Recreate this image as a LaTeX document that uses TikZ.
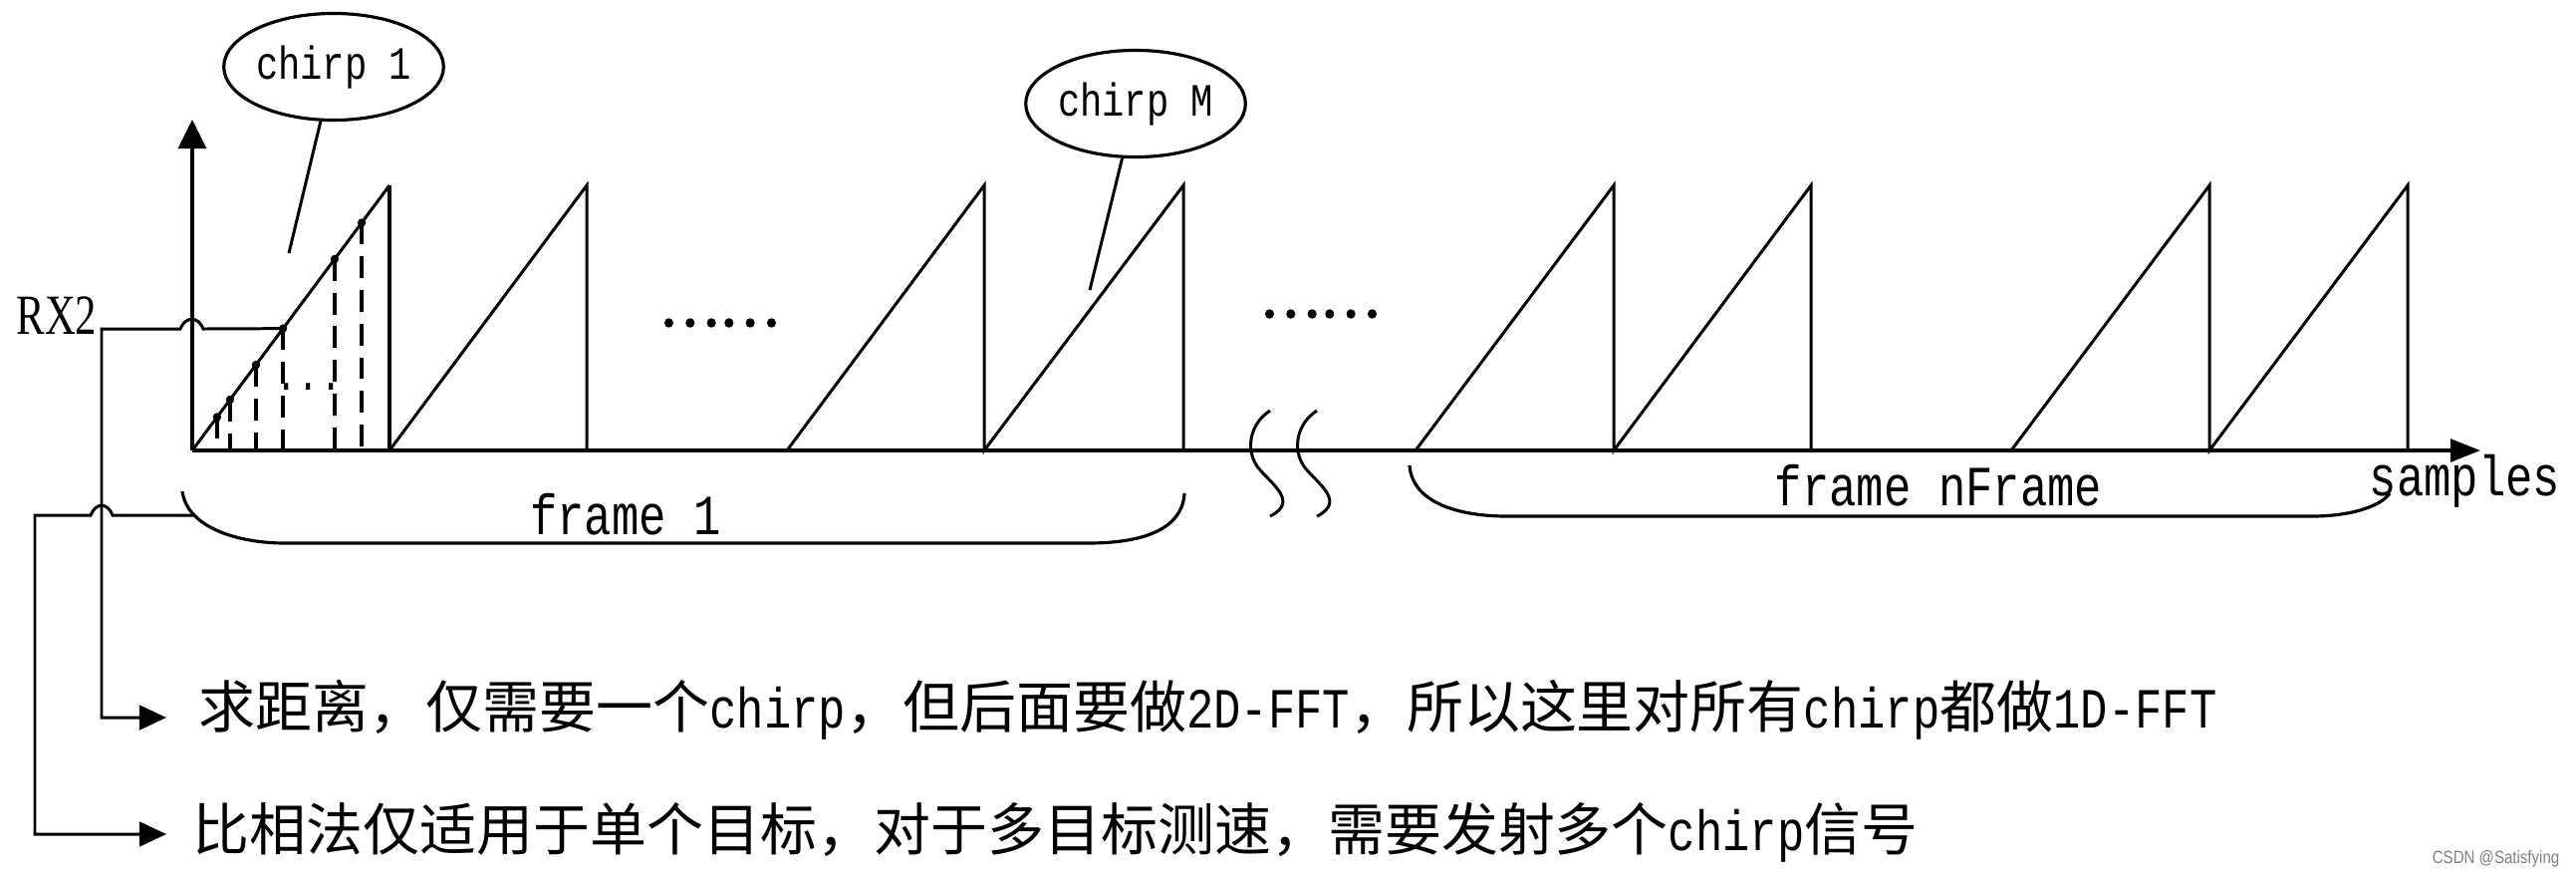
\documentclass[tikz,border=0pt]{standalone}
\usepackage{fontspec}
\usetikzlibrary{arrows.meta,calc,shapes.geometric}
\newfontfamily\cjk{Noto Sans CJK SC}
\newfontfamily\cjkdots[FakeBold=2.5]{Noto Sans CJK SC}
\newfontfamily\monof[FakeStretch=0.8]{Liberation Mono}
\newfontfamily\rxfont[FakeStretch=0.75]{Liberation Serif}
\newfontfamily\wmfont[FakeStretch=0.84]{Liberation Sans}
\newcommand\bigtxt{\fontsize{16.2}{19}\selectfont}
\newcommand\midtxt{\fontsize{13.2}{15}\selectfont}
\begin{document}
\begin{tikzpicture}[x=0.01cm,y=-0.01cm,
  ln/.style={line width=0.85pt},
  thk/.style={line width=1.15pt},
  dashline/.style={line width=0.95pt, dash pattern=on 6.2pt off 3.4pt},
  brc/.style={line width=0.9pt},
  cbub/.style={ellipse, draw, line width=0.9pt, minimum width=2.2cm, minimum height=1.07cm, inner sep=0pt, font=\monof\midtxt},
  lbl/.style={inner sep=0pt, font=\monof\bigtxt},
  cjktxt/.style={inner sep=0pt, font=\cjk\bigtxt},
  yarrow/.style={-{Triangle[length=8.3pt,width=8pt]}},
  xarrow/.style={-{Triangle[length=8.5pt,width=6.4pt]}},
  tarrow/.style={-{Triangle[length=7.7pt,width=7pt]}},
  dotmark/.style={fill=black}
]
\useasboundingbox (0,0) rectangle (2586,878);
% axes
\coordinate (o) at (193,452);
\coordinate (ytip) at (193,120);
\coordinate (xtip) at (2490,452);
\draw[thk, xarrow] (o) -- (xtip);
\draw[ln, line width=0.95pt, yarrow] (o) -- (ytip);
% frame 1 sawtooth
\coordinate (pk1) at (391,186);
\draw[ln] (o) -- (pk1);
\draw[thk] (pk1) -- (391,452);
\draw[ln] (391,452) -- (589,186) -- (589,452);
\draw[ln] (790,452) -- (988,186) -- (988,452) -- (1188,186) -- (1188,452);
% frame nFrame sawtooth
\draw[ln] (1421,452) -- (1620,186) -- (1620,452) -- (1818,186) -- (1818,452);
\draw[ln] (2019,452) -- (2218,186) -- (2218,452) -- (2417,186) -- (2417,452);
% samples on the first chirp
\coordinate (d1) at ($(o)!0.126!(pk1)$);
\coordinate (d2) at ($(o)!0.192!(pk1)$);
\coordinate (d3) at ($(o)!0.323!(pk1)$);
\coordinate (d4) at ($(o)!0.46!(pk1)$);
\coordinate (d5) at ($(o)!0.722!(pk1)$);
\coordinate (d6) at ($(o)!0.859!(pk1)$);
\foreach \d in {d1,d2,d3,d4,d5,d6}{
  \draw[dashline] (\d) -- (\d |- o);
  \fill[dotmark] (\d) circle[radius=1.2pt];
}
\node[inner sep=0pt, font=\monof\midtxt, anchor=base] (sd) at (310,391) {...};
% break marks
\draw[ln] (1275,412) .. controls (1255,425) and (1250,450) .. (1262,468) .. controls (1275,485) and (1305,503) .. (1275,518);
\draw[ln] (1322,412) .. controls (1302,425) and (1297,450) .. (1309,468) .. controls (1322,485) and (1352,503) .. (1322,518);
% ellipsis dots
\node[inner sep=0pt, font=\cjkdots\bigtxt] (e1) at (722,324) {……};
\node[inner sep=0pt, font=\cjkdots\bigtxt] (e2) at (1325,315) {……};
% chirp bubbles
\node[cbub] (c1) at (335,67) {chirp 1};
\coordinate (c1p) at (290,254);
\draw[ln] (c1) -- (c1p);
\node[cbub] (cM) at (1140,104) {chirp M};
\coordinate (cMp) at (1094,291);
\draw[ln] (cM) -- (cMp);
% braces
\draw[brc] (183,493) .. controls (188,530) and (240,545) .. (286,545) -- (1092,545) .. controls (1150,545) and (1187,530) .. (1189,495);
\draw[brc] (1415,467) .. controls (1418,505) and (1465,518) .. (1513,518) -- (2321,518) .. controls (2360,518) and (2390,508) .. (2399,495);
\coordinate (bl) at (195,517);
% labels
\node[lbl, anchor=base] (f1) at (628,536) {frame 1};
\node[lbl, anchor=base] (fn) at (1946,507) {frame nFrame};
\node[lbl, anchor=base west] (smp) at (2378,497) {samples};
\node[inner sep=0pt, font=\rxfont\bigtxt, anchor=base east] (rx) at (98,335) {RX2};
% notes
\node[cjktxt, anchor=base west] (t1) at (199,730) {求距离，仅需要一个{\monof chirp}，但后面要做{\monof 2D-FFT}，所以这里对所有{\monof chirp}都做{\monof 1D-FFT}};
\node[cjktxt, anchor=base west] (t2) at (193,853) {比相法仅适用于单个目标，对于多目标测速，需要发射多个{\monof chirp}信号};
\coordinate (rxc) at (102,330);
\coordinate (a1) at (167,720);
\coordinate (a2) at (167,837);
\draw[ln, tarrow] (d4) -- (204,330) .. controls (199,317) and (186,317) .. (181,330) -- (rxc) -- (rxc |- a1) -- (a1);
\draw[ln, tarrow] (bl) -- (113,517) .. controls (108,504) and (96,504) .. (91,517) -- (35,517) -- (35,837) -- (a2);
% watermark
\node[inner sep=0pt, anchor=base east, font=\wmfont\fontsize{5.1}{6}\selectfont, text=black!50] (wm) at (2570,866) {CSDN @Satisfying};
\end{tikzpicture}
\end{document}
